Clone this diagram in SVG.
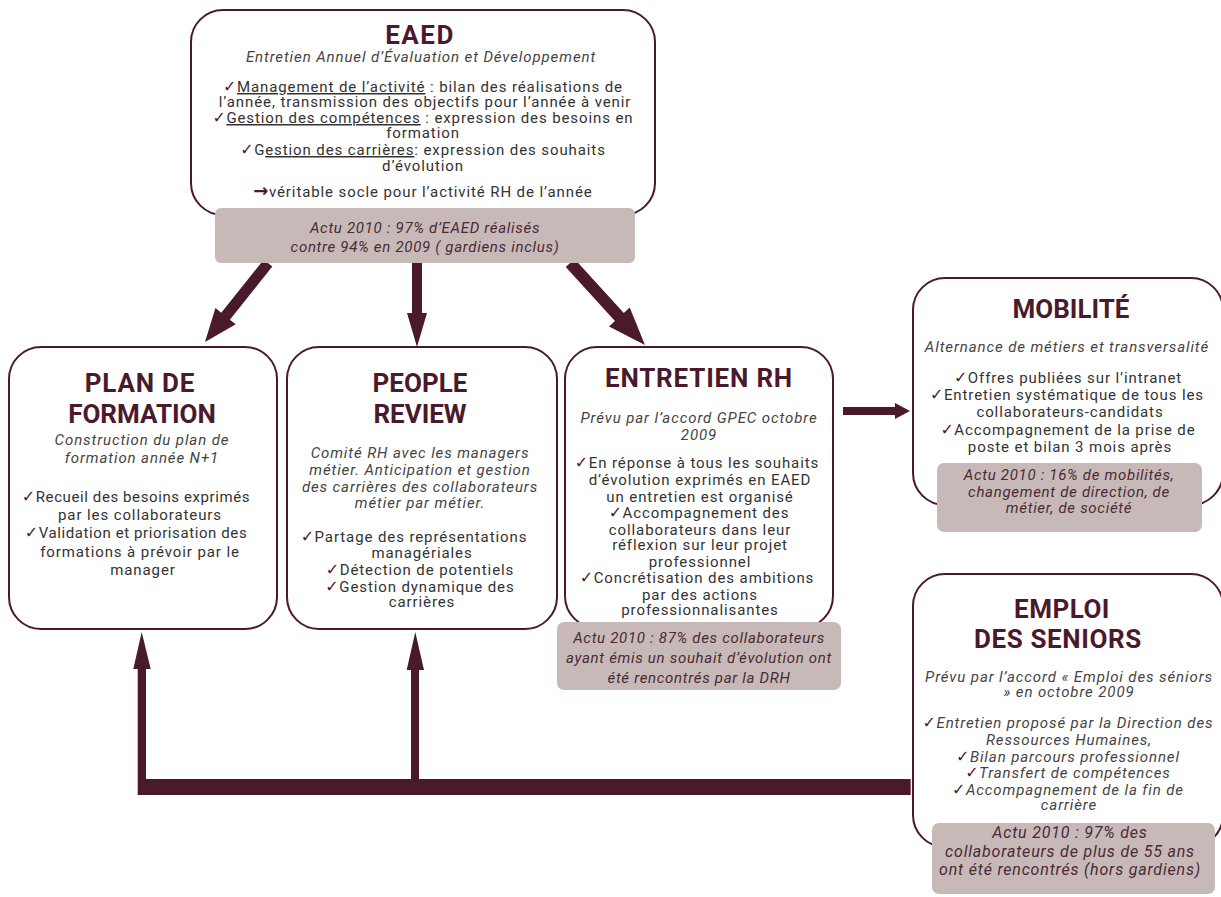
<svg xmlns="http://www.w3.org/2000/svg" width="1221" height="897" viewBox="0 0 1221 897">
<style>
.box{fill:#fff;stroke:#4a1a2c;stroke-width:2}
.actu{fill:#c8b9b9}
text{font-family:Roboto,"DejaVu Sans",sans-serif;text-anchor:middle}
.title{font-weight:bold;fill:#4a1a2c;font-size:26px}
.sub{font-style:italic;fill:#444;font-size:15px;letter-spacing:0.9px}
.body{fill:#333;font-size:15px;letter-spacing:0.9px}
.ck{fill:#4a1a2c;font-family:"DejaVu Sans",sans-serif;font-style:normal;font-size:16px;letter-spacing:0.5px}
.act{font-style:italic;fill:#4a2a33;font-size:15px;letter-spacing:0.7px}
.u{text-decoration:underline}
.arrow{fill:#4a1a2c}
</style>
<rect width="1221" height="897" fill="#fff"/>

<g id="connectors" class="arrow">
  <path transform="translate(205,342) rotate(128.6)" d="M-101,-5.5 L-33,-5.5 L-33,-13 L0,0 L-33,13 L-33,5.5 L-101,5.5 Z"/>
  <path d="M412,263 L422,263 L422,313 L427,313 L417,347 L407,313 L412,313 Z"/>
  <path transform="translate(645,345) rotate(47.6)" d="M-111,-6 L-38,-6 L-38,-14 L0,0 L-38,14 L-38,6 L-111,6 Z"/>
  <path d="M843,407 L895,407 L895,403 L910,411 L895,419 L895,415 L843,415 Z"/>
  <path d="M910.7,779 L910.7,795 L137.7,795 L137.7,669 L133.3,669 L141.7,632 L150.7,669 L146,669 L146,779 L411,779 L411,670 L406.7,670 L415.3,632 L424,670 L419,670 L419,779 Z"/>
</g>

<g id="eaed">
  <rect class="box" x="191" y="10" width="464" height="205" rx="32"/>
  <text class="title" x="420" y="44" style="letter-spacing:1.5px">EAED</text>
  <text class="sub" x="421" y="62">Entretien Annuel d’Évaluation et Développement</text>
  <text class="body" x="423" y="92"><tspan class="ck">✓</tspan><tspan class="u">Management de l’activité</tspan> : bilan des réalisations de</text>
  <text class="body" x="425" y="107">l’année, transmission des objectifs pour l’année à venir</text>
  <text class="body" x="423" y="123"><tspan class="ck">✓</tspan><tspan class="u">Gestion des compétences</tspan> : expression des besoins en</text>
  <text class="body" x="423" y="138">formation</text>
  <text class="body" x="423" y="155"><tspan class="ck">✓</tspan>G<tspan class="u">estion des carrières</tspan>: expression des souhaits</text>
  <text class="body" x="423" y="171">d’évolution</text>
  <text class="body" x="423" y="197"><tspan class="ck" style="font-weight:bold;font-size:18px">→</tspan>véritable socle pour l’activité RH de l’année</text>
  <rect class="actu" x="215" y="208" width="420" height="55" rx="6"/>
  <text class="act" x="425" y="233">Actu 2010 : 97% d’EAED réalisés</text>
  <text class="act" x="425" y="252">contre 94% en 2009 ( gardiens inclus)</text>
</g>

<g id="plan">
  <rect class="box" x="9" y="347" width="268" height="282" rx="32"/>
  <text class="title" x="140" y="392" style="letter-spacing:0.8px">PLAN DE</text>
  <text class="title" x="142" y="423">FORMATION</text>
  <text class="sub" x="142" y="445">Construction du plan de</text>
  <text class="sub" x="142" y="463">formation année N+1</text>
  <text class="body" x="136" y="502" style="letter-spacing:0.6px"><tspan class="ck">✓</tspan>Recueil des besoins exprimés</text>
  <text class="body" x="140" y="520">par les collaborateurs</text>
  <text class="body" x="136" y="538" style="letter-spacing:0.6px"><tspan class="ck">✓</tspan>Validation et priorisation des</text>
  <text class="body" x="140" y="557">formations à prévoir par le</text>
  <text class="body" x="143" y="575">manager</text>
</g>

<g id="people">
  <rect class="box" x="287" y="347" width="270" height="282" rx="32"/>
  <text class="title" x="420" y="392">PEOPLE</text>
  <text class="title" x="420" y="423">REVIEW</text>
  <text class="sub" x="420" y="458">Comité RH avec les managers</text>
  <text class="sub" x="420" y="475">métier. Anticipation et gestion</text>
  <text class="sub" x="420" y="492">des carrières des collaborateurs</text>
  <text class="sub" x="420" y="508">métier par métier.</text>
  <text class="body" x="414" y="542"><tspan class="ck">✓</tspan>Partage des représentations</text>
  <text class="body" x="422" y="558">managériales</text>
  <text class="body" x="420" y="575"><tspan class="ck">✓</tspan>Détection de potentiels</text>
  <text class="body" x="420" y="592"><tspan class="ck">✓</tspan>Gestion dynamique des</text>
  <text class="body" x="422" y="607">carrières</text>
</g>

<g id="entretien">
  <rect class="box" x="565" y="347" width="268" height="281" rx="32"/>
  <text class="title" x="699" y="387" style="letter-spacing:0.8px">ENTRETIEN RH</text>
  <text class="sub" x="699" y="423">Prévu par l’accord GPEC octobre</text>
  <text class="sub" x="699" y="440">2009</text>
  <text class="body" x="697" y="468"><tspan class="ck">✓</tspan>En réponse à tous les souhaits</text>
  <text class="body" x="700" y="485">d’évolution exprimés en EAED</text>
  <text class="body" x="700" y="502">un entretien est organisé</text>
  <text class="body" x="699" y="518"><tspan class="ck">✓</tspan>Accompagnement des</text>
  <text class="body" x="700" y="535">collaborateurs dans leur</text>
  <text class="body" x="700" y="550">réflexion sur leur projet</text>
  <text class="body" x="700" y="567">professionnel</text>
  <text class="body" x="697" y="583"><tspan class="ck">✓</tspan>Concrétisation des ambitions</text>
  <text class="body" x="700" y="600">par des actions</text>
  <text class="body" x="700" y="615">professionnalisantes</text>
  <rect class="actu" x="557" y="622" width="284" height="68" rx="7"/>
  <text class="act" x="699" y="643">Actu 2010 : 87% des collaborateurs</text>
  <text class="act" x="699" y="663">ayant émis un souhait d’évolution ont</text>
  <text class="act" x="699" y="683">été rencontrés par la DRH</text>
</g>

<g id="mobilite">
  <rect class="box" x="913" y="278" width="310" height="227" rx="32"/>
  <text class="title" x="1071" y="318">MOBILITÉ</text>
  <text class="sub" x="1067" y="352">Alternance de métiers et transversalité</text>
  <text class="body" x="1068" y="383"><tspan class="ck">✓</tspan>Offres publiées sur l’intranet</text>
  <text class="body" x="1067" y="400"><tspan class="ck">✓</tspan>Entretien systématique de tous les</text>
  <text class="body" x="1070" y="417">collaborateurs-candidats</text>
  <text class="body" x="1068" y="435"><tspan class="ck">✓</tspan>Accompagnement de la prise de</text>
  <text class="body" x="1070" y="452">poste et bilan 3 mois après</text>
  <rect class="actu" x="937" y="463" width="265" height="69" rx="7"/>
  <text class="act" x="1069" y="480">Actu 2010 : 16% de mobilités,</text>
  <text class="act" x="1069" y="497">changement de direction, de</text>
  <text class="act" x="1069" y="513">métier, de société</text>
</g>

<g id="emploi">
  <rect class="box" x="913" y="574" width="310" height="273" rx="32"/>
  <text class="title" x="1062" y="618" style="letter-spacing:0.5px">EMPLOI</text>
  <text class="title" x="1058" y="648" style="letter-spacing:0.6px">DES SENIORS</text>
  <text class="sub" x="1069" y="682">Prévu par l’accord « Emploi des séniors</text>
  <text class="sub" x="1069" y="697">» en octobre 2009</text>
  <text class="sub" x="1068" y="728"><tspan class="ck">✓</tspan>Entretien proposé par la Direction des</text>
  <text class="sub" x="1069" y="745">Ressources Humaines,</text>
  <text class="sub" x="1068" y="762"><tspan class="ck">✓</tspan>Bilan parcours professionnel</text>
  <text class="sub" x="1068" y="778"><tspan class="ck">✓</tspan>Transfert de compétences</text>
  <text class="sub" x="1068" y="795"><tspan class="ck">✓</tspan>Accompagnement de la fin de</text>
  <text class="sub" x="1069" y="810">carrière</text>
  <rect class="actu" x="932" y="823" width="283" height="71" rx="7"/>
  <text class="act" x="1070" y="838" style="font-size:16px;letter-spacing:0.8px">Actu 2010 : 97% des</text>
  <text class="act" x="1070" y="857" style="font-size:16px;letter-spacing:0.8px">collaborateurs de plus de 55 ans</text>
  <text class="act" x="1070" y="875" style="font-size:16px;letter-spacing:0.8px">ont été rencontrés (hors gardiens)</text>
</g>
</svg>
